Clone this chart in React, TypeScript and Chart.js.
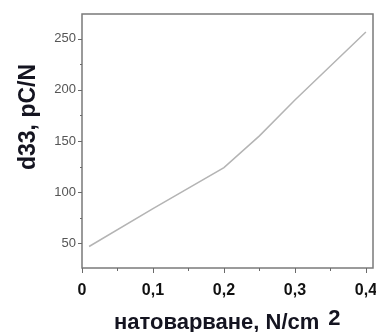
import React, { useEffect, useRef } from "react";
import { Chart, registerables } from "chart.js";

Chart.register(...registerables);

const loadValues = [0.01, 0.1, 0.2, 0.25, 0.3, 0.4];
const d33Values = [47, 84, 124, 155, 190, 256.5];
const xMajorTicks = [0, 0.1, 0.2, 0.3, 0.4];
const xMinorTicks = [0.05, 0.15, 0.25, 0.35];
const yMajorTicks = [50, 100, 150, 200, 250];
const yMinorTicks = [75, 125, 175, 225];
const yTitle = "d33, pC/N";
const xTitle = "натоварване, N/cm";
const xTitleSup = "2";

const FONT = '"Liberation Sans", Arial, sans-serif';

const framePlugin = {
  id: "frameAndTitles",
  afterDraw(chart: any) {
    const { ctx, chartArea, scales } = chart;
    const { left, right, top, bottom } = chartArea;
    ctx.save();
    // frame
    ctx.strokeStyle = "#7a7a7a";
    ctx.lineWidth = 1.5;
    ctx.strokeRect(left, top, right - left, bottom - top);
    // ticks
    ctx.lineWidth = 1;
    ctx.strokeStyle = "#6a6a6a";
    ctx.beginPath();
    yMajorTicks.forEach((v) => {
      const y = Math.round(scales.y.getPixelForValue(v)) + 0.5;
      ctx.moveTo(left - 4, y);
      ctx.lineTo(left, y);
    });
    yMinorTicks.forEach((v) => {
      const y = Math.round(scales.y.getPixelForValue(v)) + 0.5;
      ctx.moveTo(left - 2, y);
      ctx.lineTo(left, y);
    });
    xMajorTicks.forEach((v) => {
      const x = Math.round(scales.x.getPixelForValue(v)) + 0.5;
      ctx.moveTo(x, bottom);
      ctx.lineTo(x, bottom + 5);
    });
    xMinorTicks.forEach((v) => {
      const x = Math.round(scales.x.getPixelForValue(v)) + 0.5;
      ctx.moveTo(x, bottom);
      ctx.lineTo(x, bottom + 3);
    });
    ctx.stroke();

    // y title
    ctx.fillStyle = "#141420";
    ctx.font = `bold 23px ${FONT}`;
    ctx.save();
    ctx.translate(35, 117);
    ctx.rotate(-Math.PI / 2);
    ctx.textAlign = "center";
    ctx.textBaseline = "alphabetic";
    ctx.fillText(yTitle, 0, 0);
    ctx.restore();

    // x title
    ctx.font = `bold 22px ${FONT}`;
    ctx.textAlign = "left";
    ctx.textBaseline = "alphabetic";
    ctx.fillText(xTitle, 114, 329);
    const w = ctx.measureText(xTitle).width;
    ctx.fillText(xTitleSup, 114 + w + 9, 325);
    ctx.restore();
  },
};

export default function App() {
  const ref = useRef<HTMLCanvasElement>(null);
  useEffect(() => {
    document.body.style.margin = "0";
    const chart = new Chart(ref.current!, {
      type: "line",
      data: {
        datasets: [
          {
            data: loadValues.map((x, i) => ({ x, y: d33Values[i] })),
            borderColor: "#b4b4b4",
            borderWidth: 1.5,
            pointRadius: 0,
            fill: false,
            tension: 0,
          },
        ],
      },
      options: {
        animation: false,
        responsive: false,
        layout: { padding: { top: 14, right: 3, left: 0, bottom: 0 } },
        plugins: { legend: { display: false }, tooltip: { enabled: false } },
        scales: {
          x: {
            type: "linear",
            min: 0,
            max: 0.41,
            grid: { display: false, drawTicks: false },
            border: { display: false },
            afterBuildTicks: (s: any) => {
              s.ticks = xMajorTicks.map((v) => ({ value: v }));
            },
            afterFit: (s: any) => {
              s.height = 64;
              s.paddingLeft = 0;
              s.paddingRight = 0;
            },
            ticks: {
              padding: 13,
              color: "#111",
              font: { family: FONT, size: 16, weight: "bold" },
              maxRotation: 0,
              callback: (v: any) =>
                v === 0 ? "0" : Number(v).toFixed(1).replace(".", ","),
            },
          },
          y: {
            type: "linear",
            min: 26,
            max: 274,
            grid: { display: false, drawTicks: false },
            border: { display: false },
            afterBuildTicks: (s: any) => {
              s.ticks = yMajorTicks.map((v) => ({ value: v }));
            },
            afterFit: (s: any) => {
              s.width = 82;
              s.paddingTop = 0;
              s.paddingBottom = 0;
            },
            ticks: {
              padding: 6,
              color: "#555",
              font: { family: FONT, size: 13 },
            },
          },
        },
      },
      plugins: [framePlugin],
    });
    return () => chart.destroy();
  }, []);
  return (
    <div style={{ position: "absolute", left: 0, top: 0, width: 376, height: 332 }}>
      <canvas ref={ref} width={376} height={332} />
    </div>
  );
}
